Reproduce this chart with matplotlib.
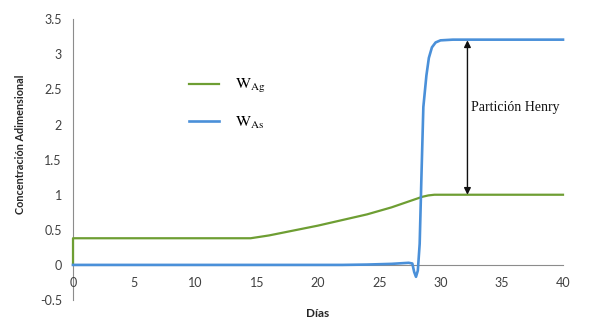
import matplotlib
matplotlib.use('Agg')
import matplotlib.pyplot as plt
import numpy as np

plt.rcParams['mathtext.fontset'] = 'stix'

# ---------------- datos ----------------
dias_ag = [0, 0, 14.5, 16, 18, 20, 22, 24, 26, 27, 28, 28.5, 29, 29.5, 40]
w_ag = [0, 0.38, 0.38, 0.42, 0.49, 0.56, 0.64, 0.72, 0.82, 0.88, 0.94, 0.97, 0.99, 1.0, 1.0]

dias_as = [0, 22, 24, 26, 27.4, 27.7, 27.85, 28.0, 28.15, 28.3, 28.45, 28.6,
           28.85, 29.05, 29.3, 29.6, 30.0, 31, 40]
w_as = [0, 0, 0.005, 0.015, 0.03, 0.02, -0.1, -0.17, -0.08, 0.3, 1.3, 2.25,
        2.7, 2.95, 3.1, 3.17, 3.2, 3.21, 3.21]

henry_x = 32.2
henry_y = [1.0, 3.2]

x_ticks = [0, 5, 10, 15, 20, 25, 30, 35, 40]
y_ticks = [-0.5, 0, 0.5, 1, 1.5, 2, 2.5, 3, 3.5]

verde = '#6E9E33'
azul = '#4A90D9'
gris = '#8C8C8C'

fig = plt.figure(figsize=(5.91, 3.31), dpi=100)
ax = fig.add_axes([73/591, 1 - 300/331, (563 - 73)/591, (300 - 19.3)/331])

ax.plot(dias_ag, w_ag, color=verde, lw=1.6, label=r'$\mathrm{W_{Ag}}$',
        clip_on=False, zorder=3)
ax.plot(dias_as, w_as, color=azul, lw=1.9, label=r'$\mathrm{W_{As}}$',
        clip_on=False, zorder=4)

# flecha de particion
ax.annotate('', xy=(henry_x, henry_y[0]), xytext=(henry_x, henry_y[1]),
            arrowprops=dict(arrowstyle='<|-|>', color='#111111', lw=1.0,
                            shrinkA=0, shrinkB=0, mutation_scale=10))
ax.text(henry_x + 0.3, 2.25, 'Partición Henry', family='Liberation Serif',
        fontsize=10, color='#111111', va='center', ha='left')

# ---------------- ejes ----------------
ax.set_xlim(0, 40)
ax.set_ylim(-0.5, 3.5)
ax.set_xticks(x_ticks)
ax.set_yticks(y_ticks)
ax.set_xticklabels([str(v) for v in x_ticks])
ax.set_yticklabels(['-0.5', '0', '0.5', '1', '1.5', '2', '2.5', '3', '3.5'])

ax.spines['top'].set_visible(False)
ax.spines['right'].set_visible(False)
ax.spines['bottom'].set_position(('data', 0))
ax.spines['bottom'].set_color(gris)
ax.spines['left'].set_color(gris)
ax.spines['bottom'].set_zorder(0)
ax.spines['left'].set_zorder(0)

ax.tick_params(axis='both', length=0, labelsize=9, labelcolor='#404040',
               labelfontfamily='Lato')
ax.tick_params(axis='x', pad=9)
ax.tick_params(axis='y', pad=8)

ax.set_xlabel('Días', fontsize=8.5, fontweight='bold', family='Lato', color='#262626')
ax.set_ylabel('Concentración Adimensional', fontsize=7.8, fontweight='bold',
              family='Lato', color='#262626')
ax.xaxis.set_label_coords(0.5, -0.03)
ax.yaxis.set_label_coords(-0.096, 0.553)

ax.legend(loc='center left', bbox_to_anchor=(189/591, 1 - 104/331),
          bbox_transform=fig.transFigure, frameon=False, fontsize=11.5,
          handlelength=1.9, handletextpad=1.0, labelspacing=1.2,
          borderpad=0, borderaxespad=0)

fig.savefig('out.png', dpi=100)
